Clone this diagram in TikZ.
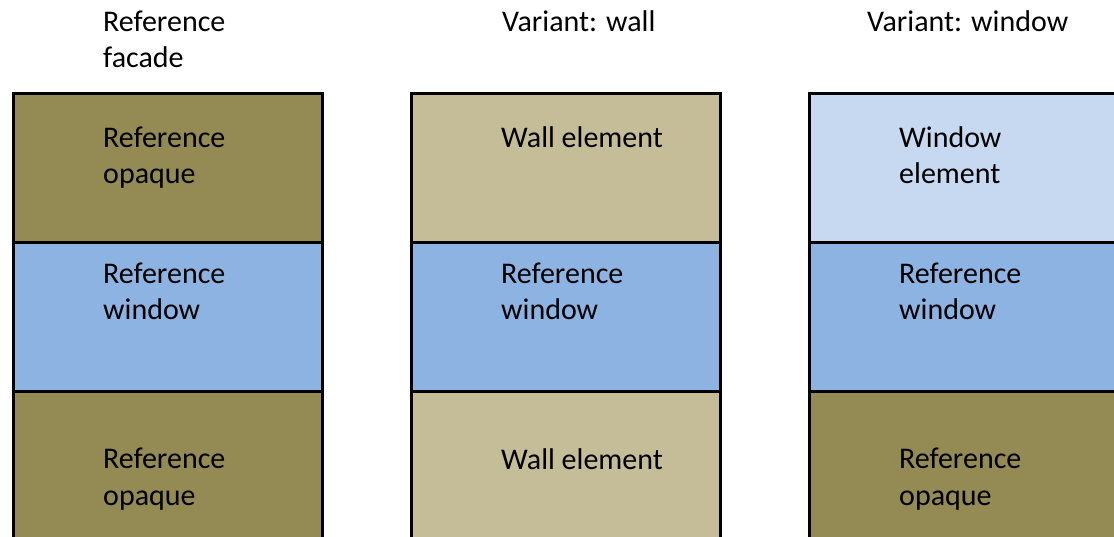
\documentclass[tikz,border=0pt]{standalone}
\usepackage{fontspec}
\setmainfont{Carlito}
\definecolor{fcOpaque}{HTML}{948A54}
\definecolor{fcWall}  {HTML}{C4BD97}
\definecolor{fcWin}   {HTML}{8DB3E2}
\definecolor{fcWinEl} {HTML}{C6D9F1}

\begin{document}
\begin{tikzpicture}[x=1pt,y=-1pt,
      cell/.style={draw=black,line width=3pt,minimum width=309pt,
                   minimum height=149pt,inner sep=0pt},
      lbl/.style={anchor=base west,align=left,inner sep=0pt,
                  font=\fontsize{30}{36.5}\selectfont}]
    \useasboundingbox (0,0) rectangle (1114,537);

    % column headers (base = last line)
    \node[lbl] (hRef) at (103,68)  {Reference\\facade};
    \node[lbl] (hWall) at (502,32) {Variant: wall};
    \node[lbl] (hWin) at (867,32)  {Variant: window};

    % reference facade
    \node[cell,fill=fcOpaque] (refTop) at (168,168) {};
    \node[cell,fill=fcWin]    (refMid) at (168,317) {};
    \node[cell,fill=fcOpaque] (refBot) at (168,466) {};

    % variant: wall
    \node[cell,fill=fcWall] (wallTop) at (565.5,168) {};
    \node[cell,fill=fcWin]  (wallMid) at (565.5,317) {};
    \node[cell,fill=fcWall] (wallBot) at (565.5,466) {};

    % variant: window
    \node[cell,fill=fcWinEl]  (winTop) at (963.5,168) {};
    \node[cell,fill=fcWin]    (winMid) at (963.5,317) {};
    \node[cell,fill=fcOpaque] (winBot) at (963.5,466) {};

    % texts
    \node[lbl] (tRefTop) at (103,184) {Reference\\opaque};
    \node[lbl] (tRefMid) at (103,320) {Reference\\window};
    \node[lbl] (tRefBot) at (103,505) {Reference\\opaque};

    \node[lbl] (tWallTop) at (501,148) {Wall element};
    \node[lbl] (tWallMid) at (501,320) {Reference\\window};
    \node[lbl] (tWallBot) at (501,469) {Wall element};

    \node[lbl] (tWinTop) at (899,184) {Window\\element};
    \node[lbl] (tWinMid) at (899,320) {Reference\\window};
    \node[lbl] (tWinBot) at (899,505) {Reference\\opaque};
  \end{tikzpicture}
\end{document}
